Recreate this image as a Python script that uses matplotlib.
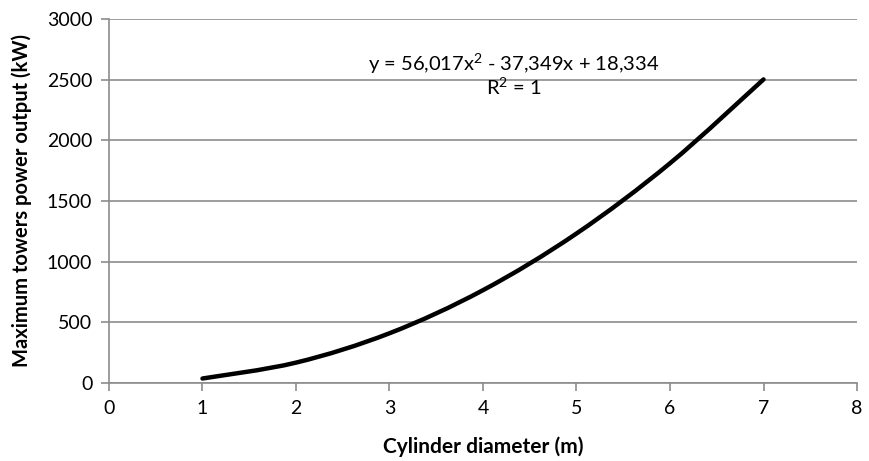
import matplotlib
matplotlib.use("Agg")
import matplotlib.pyplot as plt
from matplotlib.path import Path
from matplotlib.patches import PathPatch

# values (cylinder diameter vs max power)
diameter = [1, 2, 3, 4, 5, 6, 7]
power = [37, 168, 410, 765, 1232, 1811, 2502]

x_ticks = [0, 1, 2, 3, 4, 5, 6, 7, 8]
y_ticks = [0, 500, 1000, 1500, 2000, 2500, 3000]

trend_text = "y = 56,017x$^2$ - 37,349x + 18,334"
r2_text = "R$^2$ = 1"

plt.rcParams['font.family'] = ['Lato', 'DejaVu Sans']
plt.rcParams['mathtext.fontset'] = 'custom'
plt.rcParams['mathtext.rm'] = 'Lato'
plt.rcParams['mathtext.default'] = 'rm'


def smooth_path(xs, ys, t=1 / 6):
    # Excel-like smoothed line: cubic bezier segments through the points
    verts = [(xs[0], ys[0])]
    codes = [Path.MOVETO]
    n = len(xs)
    for i in range(n - 1):
        x0, y0 = xs[max(i - 1, 0)], ys[max(i - 1, 0)]
        x1, y1 = xs[i], ys[i]
        x2, y2 = xs[i + 1], ys[i + 1]
        x3, y3 = xs[min(i + 2, n - 1)], ys[min(i + 2, n - 1)]
        c1 = (x1 + (x2 - x0) * t, y1 + (y2 - y0) * t)
        c2 = (x2 - (x3 - x1) * t, y2 - (y3 - y1) * t)
        verts += [c1, c2, (x2, y2)]
        codes += [Path.CURVE4] * 3
    return Path(verts, codes)


fig = plt.figure(figsize=(8.69, 4.61), dpi=100)
ax = fig.add_axes([0.1254, 0.1692, 0.8608, 0.7896])

ax.add_patch(PathPatch(smooth_path(diameter, power), facecolor='none',
                       edgecolor='black', linewidth=3.2, capstyle='round'))

ax.set_xlim(0, 8)
ax.set_ylim(0, 3000)
ax.set_xticks(x_ticks)
ax.set_yticks(y_ticks)

grey = '#8c8c8c'
ax.grid(axis='y', color=grey, linewidth=1.2)
ax.set_axisbelow(True)
for side in ['top', 'right']:
    ax.spines[side].set_visible(False)
for side in ['left', 'bottom']:
    ax.spines[side].set_color(grey)
    ax.spines[side].set_linewidth(1.2)
ax.tick_params(axis='both', colors=grey, length=6, width=1.2, labelsize=14,
               labelcolor='black', pad=6)

ax.set_xlabel("Cylinder diameter (m)", fontsize=15, fontweight='bold', labelpad=14)
ax.set_ylabel("Maximum towers power output (kW)", fontsize=14.5, fontweight='bold', labelpad=11)

ax.text(4.33, 2630, trend_text, ha='center', va='center', fontsize=14.5)
ax.text(4.33, 2440, r2_text, ha='center', va='center', fontsize=14.5)

fig.savefig("out.png", dpi=100)
